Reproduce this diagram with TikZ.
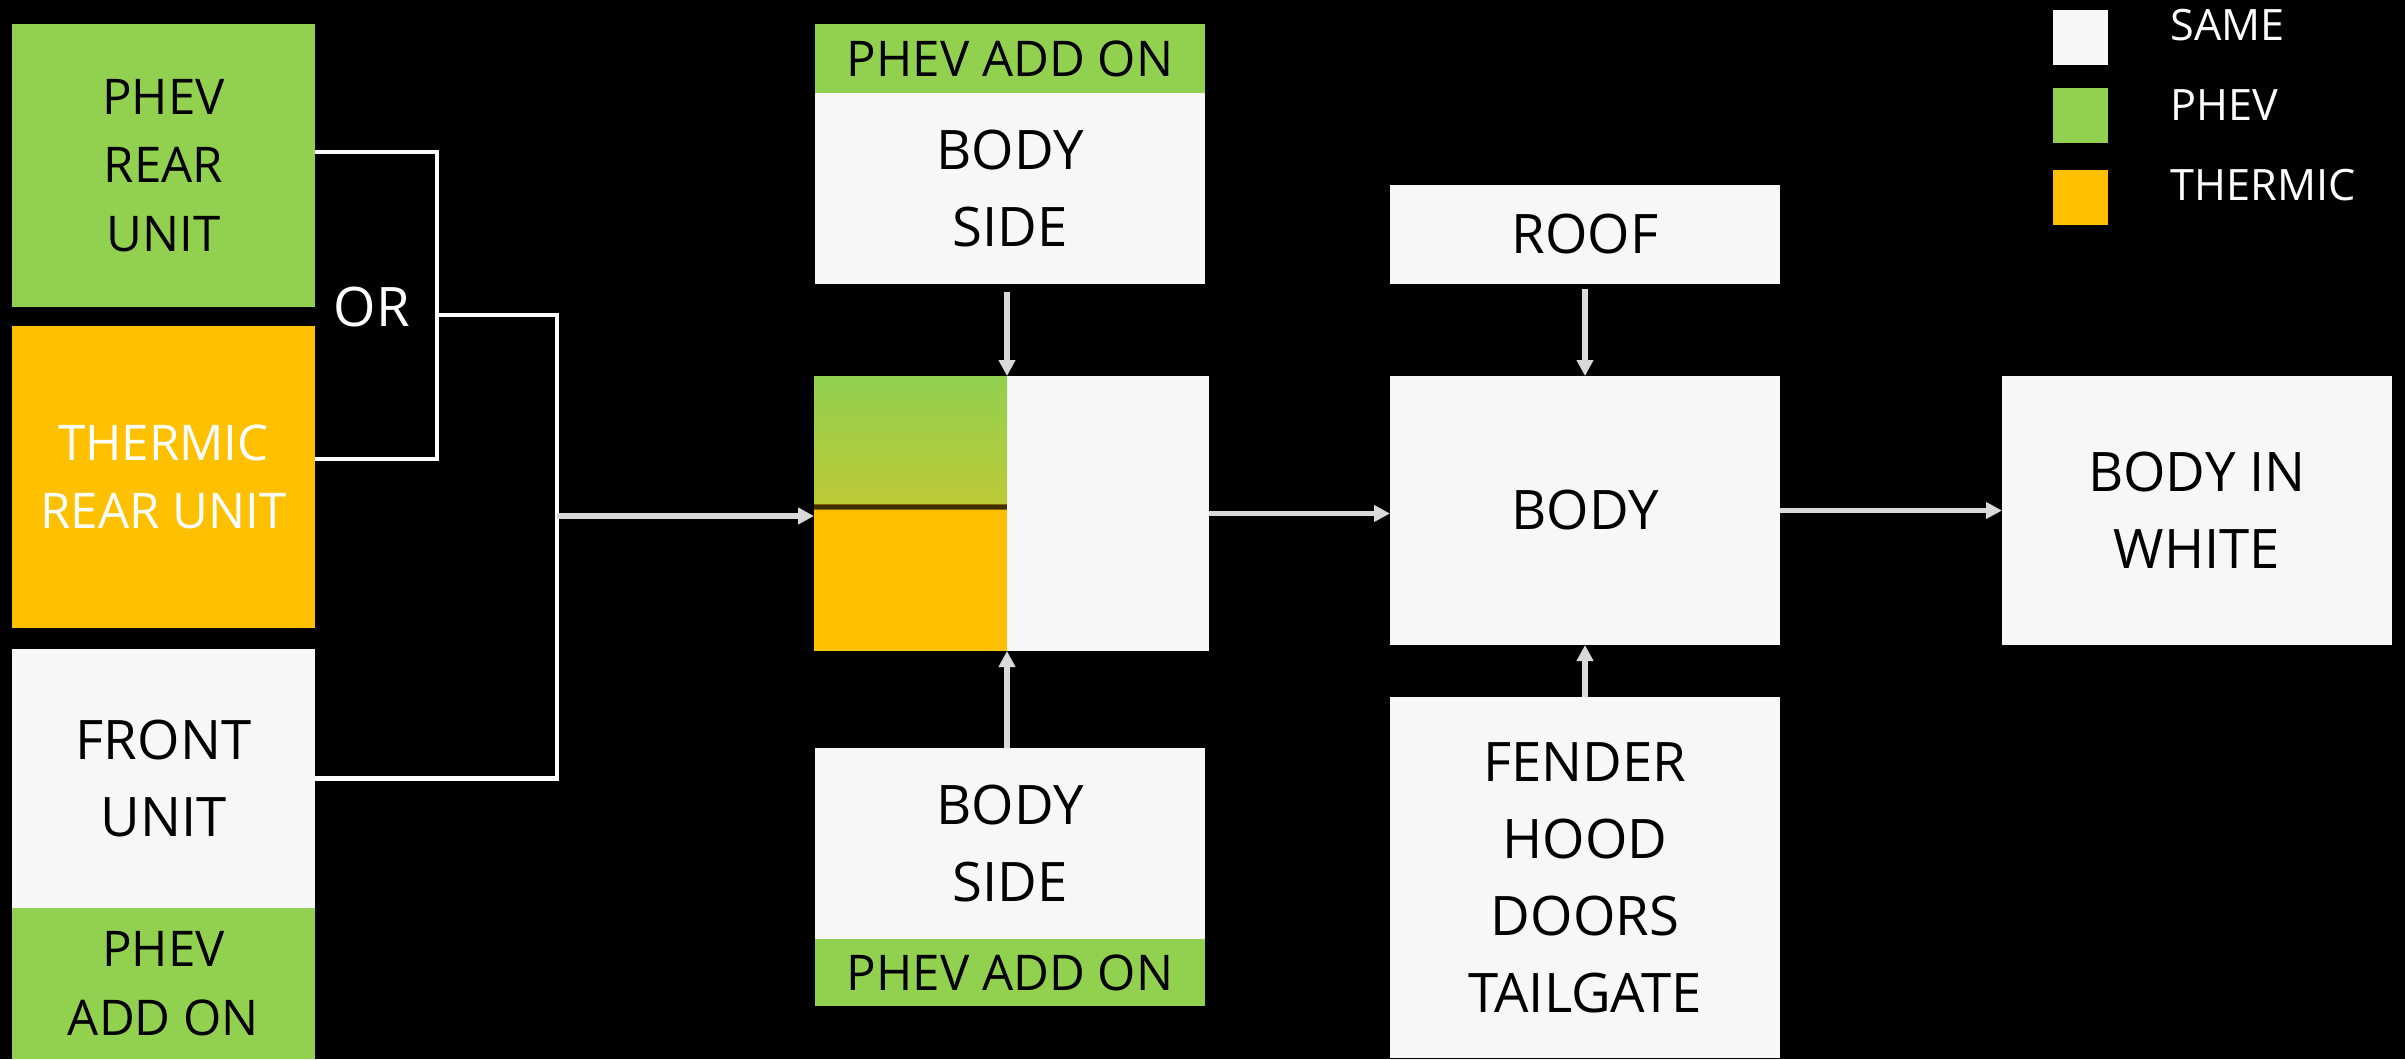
\documentclass[tikz,border=0pt]{standalone}
\usepackage{fontspec}
\setmainfont{Open Sans}
\usetikzlibrary{shapes, arrows.meta, calc, positioning}

\definecolor{phev}{HTML}{92D050}
\definecolor{phevlow}{HTML}{BCC936}
\definecolor{thermic}{HTML}{FFC000}
\definecolor{same}{HTML}{F7F7F7}
\definecolor{wire}{HTML}{D9D9D9}
\definecolor{seam}{HTML}{3F2E00}
\definecolor{seamedge}{HTML}{8A6400}

\newcommand\txtbig{\fontsize{15.5pt}{21.9pt}\selectfont}
\newcommand\txtmid{\fontsize{14pt}{19.5pt}\selectfont}
\newcommand\txtkey{\fontsize{12.3pt}{15pt}\selectfont}

\begin{document}
\begin{tikzpicture}[>={Triangle[length=1.6mm,width=1.6mm]}, node distance=0pt]
	\tikzstyle{part} = [fill=same, inner sep=0pt, outer sep=0pt, align=center, text=black, font=\txtbig]
	\tikzstyle{addon} = [part, fill=phev, font=\txtmid]
	\tikzstyle{link} = [white, line width=1.4pt]
	\tikzstyle{flow} = [->, wire, line width=1.5pt]
	\tikzstyle{key} = [minimum width=5.5mm, minimum height=5.5mm, inner sep=0pt]

	\fill[black] (0,0) rectangle (24.05,-10.59);
	\useasboundingbox (0,0) rectangle (24.05,-10.59);

	% rear and front units
	\node[addon, minimum width=3.03cm, minimum height=2.83cm] (prear) at (1.635,-1.655) {PHEV\\REAR\\UNIT};
	\node[addon, fill=thermic, text=white, minimum width=3.03cm, minimum height=3.02cm] (trear) at (1.635,-4.77) {THERMIC\\REAR UNIT};
	\node[part, minimum width=3.03cm, minimum height=2.59cm] (front) at (1.635,-7.785) {FRONT\\UNIT};
	\node[addon, below=of front, minimum width=3.03cm, minimum height=1.51cm] (frontadd) {PHEV\\ADD ON};
	\node[font=\txtbig, text=white] (or) at (3.72,-3.07) {OR};

	% body sides
	\node[addon, minimum width=3.9cm, minimum height=0.69cm] (topadd) at (10.10,-0.585) {PHEV ADD ON};
	\node[part, below=of topadd, minimum width=3.9cm, minimum height=1.91cm] (side1) {BODY\\SIDE};
	\node[part, minimum width=3.95cm, minimum height=2.75cm] (mid) at (10.115,-5.135) {};
	\node[part, minimum width=3.9cm, minimum height=1.91cm] (side2) at (10.10,-8.435) {BODY\\SIDE};
	\node[addon, below=of side2, minimum width=3.9cm, minimum height=0.67cm] (botadd) {PHEV ADD ON};
	\coordinate (split) at (10.07,0);
	\shade[top color=phev, bottom color=phevlow] (mid.north west) rectangle (10.07,-5.04);
	\fill[thermic] (10.07,-5.04) rectangle (mid.south west);
	\draw[seamedge, line width=1.7pt] (8.14,-5.07) -- (10.07,-5.07);
	\draw[seam, line width=0.9pt] (8.14,-5.07) -- (10.07,-5.07);

	% body
	\node[part, minimum width=3.9cm, minimum height=0.99cm] (roof) at (15.85,-2.345) {ROOF};
	\node[part, minimum width=3.9cm, minimum height=2.69cm] (body) at (15.85,-5.105) {BODY};
	\node[part, minimum width=3.9cm, minimum height=3.61cm] (fender) at (15.85,-8.775) {FENDER\\HOOD\\DOORS\\TAILGATE};
	\node[part, minimum width=3.9cm, minimum height=2.69cm] (biw) at (21.97,-5.105) {BODY IN\\WHITE};

	% legend
	\node[key, fill=same] (ksame) at (20.805,-0.375) {};
	\node[key, fill=phev] (kphev) at (20.805,-1.155) {};
	\node[key, fill=thermic] (ktherm) at (20.805,-1.975) {};
	\node[anchor=west, inner sep=0pt, text=white, font=\txtkey] (lsame) at (21.70,-0.25) {SAME};
	\node[anchor=west, inner sep=0pt, text=white, font=\txtkey] (lphev) at (21.70,-1.05) {PHEV};
	\node[anchor=west, inner sep=0pt, text=white, font=\txtkey] (ltherm) at (21.70,-1.85) {THERMIC};

	% connectors
	\draw[link] ([yshift=1.35mm]prear.east) -- ++(1.22,0) |- ([yshift=1.8mm]trear.east);
	\coordinate (orjoin) at (4.37,-3.15);
	\draw[link] (orjoin) -- ++(1.20,0) |- (front.east);
	\coordinate (feed) at (5.57,-5.16);
	\draw[flow] (feed) -- (feed -| mid.west);
	\draw[flow, shorten <=0.8mm] (side1.south -| split) -- (mid.north -| split);
	\draw[flow] (side2.north -| split) -- (mid.south -| split);
	\draw[flow] (mid.east) -- (mid.east -| body.west);
	\draw[flow, shorten <=0.5mm] (roof.south) -- (body.north);
	\draw[flow] (fender.north) -- (body.south);
	\draw[flow] (body.east) -- (biw.west);
\end{tikzpicture}
\end{document}
